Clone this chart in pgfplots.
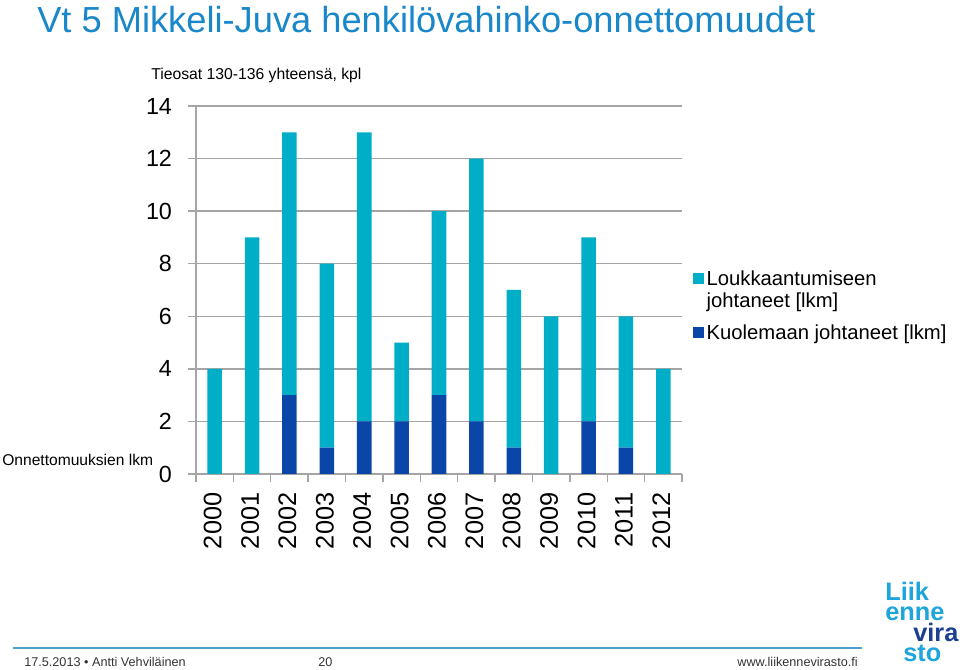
\documentclass[border=0pt]{standalone}
\usepackage{pgfplots}
\usepackage{pgfplotstable}
\pgfplotsset{compat=1.18}
\usepackage{fontspec}
\setmainfont{Liberation Sans}
\definecolor{lightbar}{RGB}{0,174,200}
\definecolor{darkbar}{RGB}{10,70,168}
\definecolor{titleblue}{RGB}{26,135,201}
\definecolor{gridgray}{RGB}{165,165,165}
\definecolor{footline}{RGB}{75,160,200}
\definecolor{logocyan}{RGB}{30,165,220}
\definecolor{logodark}{RGB}{28,62,145}

\pgfplotstableread{
x dead injured
0 0 4
1 0 9
2 3 10
3 1 7
4 2 11
5 2 3
6 3 7
7 2 10
8 1 6
9 0 6
10 2 7
11 1 5
12 0 4
}\datatable

\begin{document}
\begin{tikzpicture}[x=0.75pt,y=0.75pt]
\path[use as bounding box] (0,0) rectangle (960,670);
\coordinate (origin) at (196,196);
\begin{axis}[
  at={(origin)}, anchor=south west,
  scale only axis, width=364.5pt, height=276pt,
  ybar stacked, bar width=10.9pt,
  xmin=-0.5, xmax=12.5, ymin=0, ymax=14,
  axis x line*=bottom, axis y line*=left,
  axis line style={-, gridgray, line width=1.1pt},
  ytick={0,2,...,14},
  ymajorgrids, grid style={gridgray, line width=1.1pt},
  tick align=outside, major tick length=6pt,
  tick style={gridgray, line width=1pt},
  /pgf/number format/assume math mode=true,
  yticklabel style={font=\fontsize{17.5}{20}\selectfont, xshift=-8.5pt},
  xtick={-0.5,0.5,...,12.5}, xticklabels={},
  extra x ticks={0,...,12},
  extra x tick labels={2000,2001,2002,2003,2004,2005,2006,2007,2008,2009,2010,2011,2012},
  extra x tick style={major tick length=0pt, xticklabel style={yshift=-10.5pt, xshift=-1.5pt, rotate=90, anchor=east, font=\fontsize{19}{20}\selectfont}},
  reverse legend,
  legend image code/.code={\fill (0pt,-4pt) rectangle (8.5pt,4.5pt);},
  legend cell align=left,
  legend style={draw=none, fill=none, at={(1.013,0.568)}, anchor=north west,
    font=\fontsize{15.2}{17}\selectfont, nodes={inner sep=2pt}, row sep=24pt},
]
\addplot[fill=darkbar, draw=none] table[x=x, y=dead] {\datatable};
\addlegendentry{Kuolemaan johtaneet [lkm]}
\addplot[fill=lightbar, draw=none] table[x=x, y=injured] {\datatable};
\addlegendentry{\vtop{\hbox{Loukkaantumiseen}\hbox{johtaneet [lkm]}}}
\end{axis}
% texts
\node[anchor=base west, inner sep=0pt, text=titleblue, font=\fontsize{27.2}{30}\selectfont] at (37,637) {Vt 5 Mikkeli-Juva henkilövahinko-onnettomuudet};
\node[anchor=base west, inner sep=0pt, font=\fontsize{11.8}{14}\selectfont] at (151,590) {Tieosat 130-136 yhteensä, kpl};
\node[anchor=base west, inner sep=0pt, font=\fontsize{11.7}{14}\selectfont] at (2,204) {Onnettomuuksien lkm};
% footer
\draw[footline, line width=1.5pt] (13,22) -- (862,22);
\node[anchor=base west, inner sep=0pt, font=\fontsize{9.5}{11}\selectfont, text=black!80] at (24,3) {17.5.2013 \textbullet{} Antti Vehviläinen};
\node[anchor=base west, inner sep=0pt, font=\fontsize{9.5}{11}\selectfont, text=black!80] at (318,3) {20};
\node[anchor=base east, inner sep=0pt, font=\fontsize{9.5}{11}\selectfont, text=black!80] at (858,3) {www.liikennevirasto.fi};
% logo
\node[anchor=north west, inner sep=0pt, align=left, font=\bfseries\fontsize{19}{15.2}\selectfont, text=logocyan] at (885,88)
  {Liik\\enne\\\hspace*{21pt}\textcolor{logodark}{vira}\\\hspace*{13.5pt}sto};
\end{tikzpicture}
\end{document}
